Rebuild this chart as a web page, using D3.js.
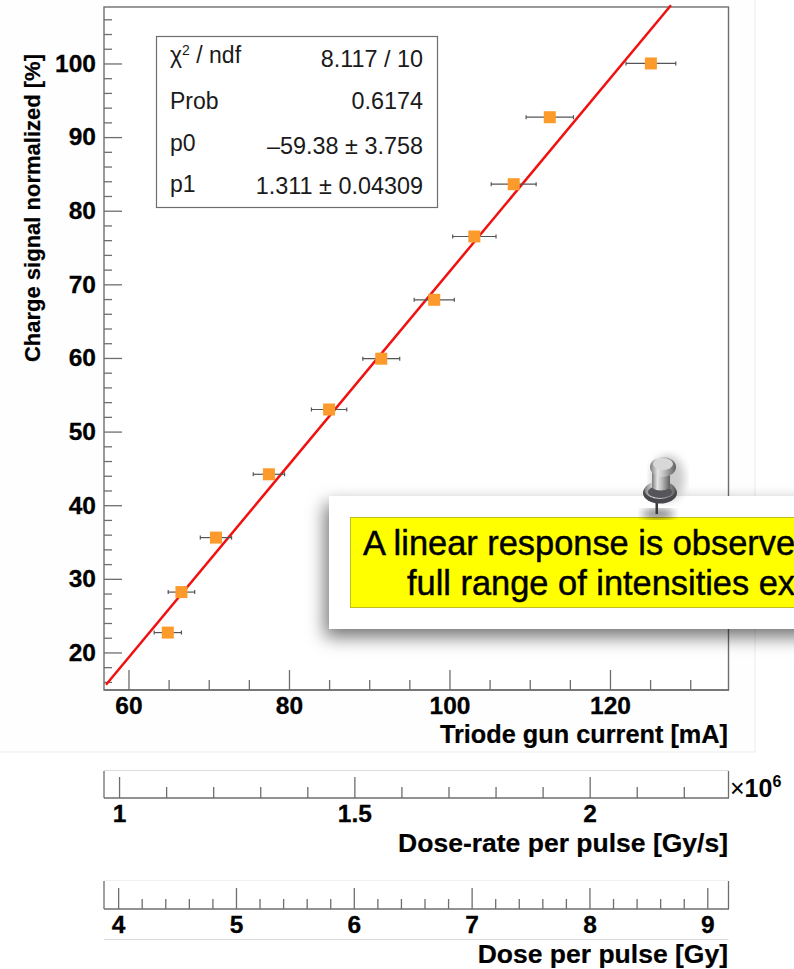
<!DOCTYPE html>
<html>
<head>
<meta charset="utf-8">
<script src="https://cdnjs.cloudflare.com/ajax/libs/d3/7.8.5/d3.min.js"></script>
<style>
html, body { margin: 0; padding: 0; background: #fff; overflow: hidden; }
svg { display: block; font-family: "Liberation Sans", Arial, sans-serif; }
.tick text { font-weight: bold; font-size: 24.5px; fill: #000; stroke: #000; stroke-width: 0.3; }
.title { font-weight: bold; font-size: 25.3px; fill: #000; stroke: #000; stroke-width: 0.2; }
.stat { font-size: 23.4px; fill: #1a1a1a; }
.note { font-size: 34.4px; fill: #000; stroke: #000; stroke-width: 0.45; }
</style>
</head>
<body>
<svg id="chart" width="794" height="969"></svg>
<script>
var gunCurrent = [64.9, 66.6, 70.9, 77.5, 85, 91.5, 98.1, 103.1, 108, 112.5, 125.1];
var chargeSignal = [22.7, 28.2, 35.6, 44.2, 53, 59.9, 67.9, 76.5, 83.6, 92.7, 100];
var currentErr = [1.7, 1.65, 1.95, 1.95, 2.2, 2.3, 2.5, 2.7, 2.8, 2.95, 3.1];

var fitP0 = -59.38, fitP1 = 1.311;
var fitRange = [57.2, 127.6];

var statNames = ["χ2 / ndf", "Prob", "p0", "p1"];
var statValues = ["8.117 / 10", "0.6174", "–59.38 ± 3.758", "1.311 ± 0.04309"];

var currentTicks = [60, 80, 100, 120];
var signalTicks = [20, 30, 40, 50, 60, 70, 80, 90, 100];
var doseRateTicks = [1, 1.5, 2];
var doseTicks = [4, 5, 6, 7, 8, 9];

var noteLines = ["A linear response is observed", "full range of intensities ex"];

var plotLeft = 104, plotRight = 728.5, plotTop = 7, plotBottom = 690;
var axisColor = "#6e6e6e";

var svg = d3.select("#chart");

var defs = svg.append("defs");
var cardShadow = defs.append("filter").attr("id", "cardShadow")
    .attr("x", "-20%").attr("y", "-30%").attr("width", "140%").attr("height", "170%");
cardShadow.append("feDropShadow")
    .attr("dx", -4).attr("dy", 8).attr("stdDeviation", 9)
    .attr("flood-color", "#000").attr("flood-opacity", 0.55);

var blur = defs.append("filter").attr("id", "pinBlur");
blur.append("feGaussianBlur").attr("stdDeviation", 4);

var headFill = defs.append("linearGradient").attr("id", "pinMetal");
[["0%", "#7d7d7d"], ["30%", "#e6e6e6"], ["55%", "#bcbcbc"], ["100%", "#5e5e5e"]].forEach(function(s) {
    headFill.append("stop").attr("offset", s[0]).attr("stop-color", s[1]);
});

// page panel behind the main plot
svg.append("rect").attr("x", -1).attr("y", -1).attr("width", 756).attr("height", 753)
    .attr("fill", "#fefefe").attr("stroke", "#ececec");

var x = d3.scaleLinear().domain([56.95, 134.77]).range([plotLeft, plotRight]);
var y = d3.scaleLinear().domain([14.9, 107.67]).range([plotBottom, plotTop]);
var doseRate = d3.scaleLinear().domain([0.968, 2.295]).range([plotLeft, plotRight]);
var dose = d3.scaleLinear().domain([3.88, 9.18]).range([plotLeft, plotRight]);

function minorTicks(scale, step, majors) {
    var d = scale.domain();
    return d3.range(Math.ceil(d[0] / step) * step, d[1], step).filter(function(v) {
        return !majors.some(function(m) { return Math.abs(m - v) < 1e-6; });
    });
}

function styleAxis(g) {
    g.selectAll("line").attr("stroke", axisColor).attr("stroke-width", 1.3);
    g.selectAll(".domain").remove();
}

function bottomAxis(scale, yPos, majors, step, majorLen, minorLen, pad) {
    svg.append("g").attr("transform", "translate(0," + yPos + ")")
        .call(d3.axisBottom(scale).tickValues(minorTicks(scale, step, majors)).tickSizeInner(-minorLen).tickSizeOuter(0).tickFormat(""))
        .call(styleAxis);
    svg.append("g").attr("transform", "translate(0," + yPos + ")")
        .call(d3.axisBottom(scale).tickValues(majors).tickSizeInner(-majorLen).tickSizeOuter(0).tickPadding(pad).tickFormat(d3.format("~g")))
        .call(styleAxis);
    svg.append("line").attr("x1", plotLeft).attr("x2", plotRight + 0.5).attr("y1", yPos).attr("y2", yPos)
        .attr("stroke", axisColor).attr("stroke-width", 1.6);
}

function faintLine(yPos, color) {
    svg.append("line").attr("x1", plotLeft).attr("x2", plotRight).attr("y1", yPos).attr("y2", yPos)
        .attr("stroke", color);
}

function sideTicks(y0, y1) {
    [plotLeft, plotRight].forEach(function(px) {
        svg.append("line").attr("x1", px).attr("x2", px).attr("y1", y0).attr("y2", y1)
            .attr("stroke", axisColor).attr("stroke-width", 1.3);
    });
}

// main frame
svg.append("rect").attr("x", plotLeft).attr("y", plotTop).attr("width", plotRight - plotLeft).attr("height", plotBottom - plotTop)
    .attr("fill", "#fff").attr("stroke", axisColor).attr("stroke-width", 1.4);

bottomAxis(x, plotBottom, currentTicks, 5, 20, 10, 7);

svg.append("g").attr("transform", "translate(" + plotLeft + ",0)")
    .call(d3.axisLeft(y).tickValues(minorTicks(y, 2, signalTicks)).tickSizeInner(-8).tickSizeOuter(0).tickFormat(""))
    .call(styleAxis);
svg.append("g").attr("transform", "translate(" + plotLeft + ",0)")
    .call(d3.axisLeft(y).tickValues(signalTicks).tickSizeInner(-18).tickSizeOuter(0).tickPadding(8))
    .call(styleAxis);

// fit line
var fitLine = d3.line()
    .x(function(d) { return x(d); })
    .y(function(d) { return y(fitP0 + fitP1 * d); });
svg.append("path").datum(fitRange)
    .attr("d", fitLine)
    .attr("fill", "none").attr("stroke", "#f01010").attr("stroke-width", 2.5);

// points with horizontal errors
var points = svg.append("g").selectAll("g").data(gunCurrent).join("g");
points.append("line")
    .attr("x1", function(d, i) { return x(d - currentErr[i]); })
    .attr("x2", function(d, i) { return x(d + currentErr[i]); })
    .attr("y1", function(d, i) { return y(chargeSignal[i]); })
    .attr("y2", function(d, i) { return y(chargeSignal[i]); })
    .attr("stroke", "#555").attr("stroke-width", 1.2);
[-1, 1].forEach(function(side) {
    points.append("line")
        .attr("x1", function(d, i) { return x(d + side * currentErr[i]); })
        .attr("x2", function(d, i) { return x(d + side * currentErr[i]); })
        .attr("y1", function(d, i) { return y(chargeSignal[i]) - 2; })
        .attr("y2", function(d, i) { return y(chargeSignal[i]) + 2; })
        .attr("stroke", "#555").attr("stroke-width", 1.2);
});
points.append("rect")
    .attr("x", function(d) { return x(d) - 6; })
    .attr("y", function(d, i) { return y(chargeSignal[i]) - 6; })
    .attr("width", 12).attr("height", 12)
    .attr("fill", "#fd9a2c");

// stat box
svg.append("rect").attr("x", 156.5).attr("y", 36.5).attr("width", 281).attr("height", 171)
    .attr("fill", "#fff").attr("stroke", "#6e6e6e").attr("stroke-width", 1.2);
var nameY = [63, 109, 151, 192], valueY = [67, 109, 154, 194];
var names = svg.append("g").selectAll("text").data(statNames).join("text")
    .attr("class", "stat")
    .attr("x", 170)
    .attr("y", function(d, i) { return nameY[i]; })
    .style("font-size", "23px");
names.each(function(d) {
    var t = d3.select(this);
    if (d.indexOf("2") > 0) {
        t.append("tspan").text("χ");
        t.append("tspan").attr("dy", -8).attr("font-size", 14).text("2");
        t.append("tspan").attr("dy", 8).text(" / ndf");
    } else {
        t.text(d);
    }
});
svg.append("g").selectAll("text").data(statValues).join("text")
    .attr("class", "stat")
    .attr("x", 423).attr("text-anchor", "end")
    .attr("y", function(d, i) { return valueY[i]; })
    .text(function(d) { return d; });

// axis titles
svg.append("text").attr("class", "title").attr("text-anchor", "end")
    .attr("x", 728).attr("y", 743).text("Triode gun current [mA]");
svg.append("text").attr("class", "title").attr("text-anchor", "end")
    .style("font-size", "22px")
    .attr("transform", "translate(40,54) rotate(-90)").text("Charge signal normalized [%]");

// dose-rate axis
faintLine(770.5, "#dcdcdc");
bottomAxis(doseRate, 798, doseRateTicks, 0.1, 21, 11, 7);
sideTicks(771, 798);
svg.append("text").attr("class", "title").attr("text-anchor", "end")
    .style("font-size", "26.5px")
    .attr("x", 728).attr("y", 852).text("Dose-rate per pulse [Gy/s]");
var exponent = svg.append("text").attr("x", 730).attr("y", 797).attr("font-weight", "bold").attr("font-size", 25);
exponent.append("tspan").attr("font-weight", "normal").text("×");
exponent.append("tspan").text("10");
exponent.append("tspan").attr("dy", -10).attr("font-size", 16).text("6");

// dose axis
faintLine(880.5, "#f0f0f0");
faintLine(939.5, "#dcdcdc");
bottomAxis(dose, 909, doseTicks, 0.2, 21, 10, 7);
sideTicks(881, 909);
svg.append("text").attr("class", "title").attr("text-anchor", "end")
    .style("font-size", "26.5px")
    .attr("x", 728).attr("y", 963).text("Dose per pulse [Gy]");

// pinned note
svg.append("rect").attr("x", 329).attr("y", 496).attr("width", 500).attr("height", 133)
    .attr("fill", "#fff").attr("filter", "url(#cardShadow)");
svg.append("rect").attr("x", 350.5).attr("y", 517.5).attr("width", 480).attr("height", 90)
    .attr("fill", "#ffff00").attr("stroke", "#c4bd1e");
svg.append("g").selectAll("text").data(noteLines).join("text")
    .attr("class", "note")
    .attr("x", function(d, i) { return i === 0 ? 363 : 407; })
    .attr("y", function(d, i) { return i === 0 ? 555 : 595; })
    .text(function(d) { return d; });

// push pin
var pin = svg.append("g");
pin.append("ellipse").attr("cx", 658).attr("cy", 514).attr("rx", 16).attr("ry", 5)
    .attr("fill", "#000").attr("opacity", 0.5).attr("filter", "url(#pinBlur)");
pin.append("ellipse").attr("cx", 668).attr("cy", 478).attr("rx", 17).attr("ry", 23)
    .attr("fill", "#000").attr("opacity", 0.2).attr("filter", "url(#pinBlur)");
pin.append("rect").attr("x", 655.5).attr("y", 503).attr("width", 2.5).attr("height", 11)
    .attr("fill", "#3a3a3a");
pin.append("ellipse").attr("cx", 660).attr("cy", 493).attr("rx", 17).attr("ry", 10.5)
    .attr("fill", "#47474c");
pin.append("ellipse").attr("cx", 660).attr("cy", 490).attr("rx", 15.5).attr("ry", 9)
    .attr("fill", "url(#pinMetal)");
pin.append("ellipse").attr("cx", 660).attr("cy", 492).attr("rx", 12).attr("ry", 6)
    .attr("fill", "#55555a");
pin.append("path").attr("d", "M652 470 L652 488 Q660 493 670 488 L670 470 Z")
    .attr("fill", "url(#pinMetal)");
pin.append("ellipse").attr("cx", 663).attr("cy", 467).attr("rx", 13).attr("ry", 10)
    .attr("fill", "url(#pinMetal)");
pin.append("ellipse").attr("cx", 663).attr("cy", 464).attr("rx", 10).attr("ry", 6)
    .attr("fill", "#d8d8d8");
</script>
</body>
</html>
